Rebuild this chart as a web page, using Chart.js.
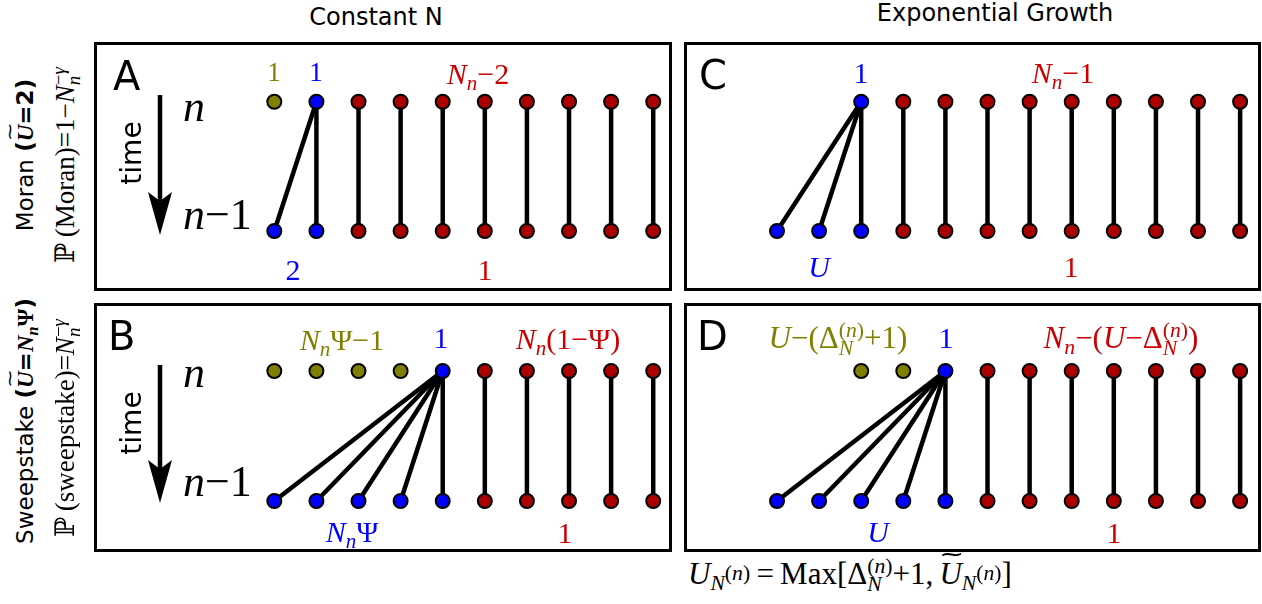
<!DOCTYPE html>
<html>
<head>
<meta charset="utf-8">
<script src="https://cdn.jsdelivr.net/npm/chart.js@4.4.0/dist/chart.umd.min.js"></script>
<style>
html,body{margin:0;padding:0;background:#fff;}
#fig{position:relative;width:1262px;height:604px;overflow:hidden;font-family:"DejaVu Sans",sans-serif;}
.panel{position:absolute;}
.panel canvas{position:absolute;left:0;top:0;}
.frame{position:absolute;left:0;top:0;right:0;bottom:0;border:3px solid #000;box-sizing:border-box;pointer-events:none;}
.t{position:absolute;white-space:nowrap;line-height:1;}
.m{font-family:"Liberation Serif","DejaVu Serif",serif;}
.s{font-family:"DejaVu Sans",sans-serif;}
.sb{position:relative;top:.3em;font-size:.7em;}
.sp{position:relative;top:-.5em;font-size:1em;}
.ss{position:relative;font-size:.7em;}
.ss .p{position:relative;top:-.5em;}
.ss .b{position:absolute;left:0;top:.42em;line-height:1;}
.til{position:relative;}
.til::after{content:"~";position:absolute;left:.12em;top:-.62em;font-family:"DejaVu Sans",sans-serif;font-style:normal;font-weight:normal;font-size:.75em;transform:scaleX(1.3);}
svg{position:absolute;left:0;top:0;}
</style>
</head>
<body>
<div id="fig"></div>
<script>
/* ===== data: one column per individual, row 1 = generation n, row 0 = generation n-1 ===== */
// o = olive (no offspring), b = blue (reproducing lineage), r = red (one offspring)
const topA    = ['o','b','r','r','r','r','r','r','r','r'];
const bottomA = ['b','b','r','r','r','r','r','r','r','r'];
const parentA = [1,1,2,3,4,5,6,7,8,9];

const topB    = ['o','o','o','o','b','r','r','r','r','r'];
const bottomB = ['b','b','b','b','b','r','r','r','r','r'];
const parentB = [4,4,4,4,4,5,6,7,8,9];

const topC    = [null,null,'b','r','r','r','r','r','r','r','r','r'];
const bottomC = ['b','b','b','r','r','r','r','r','r','r','r','r'];
const parentC = [2,2,2,3,4,5,6,7,8,9,10,11];

const topD    = [null,null,'o','o','b','r','r','r','r','r','r','r'];
const bottomD = ['b','b','b','b','b','r','r','r','r','r','r','r'];
const parentD = [4,4,4,4,4,5,6,7,8,9,10,11];

const COLORS = {o:'#808000', b:'#0000ff', r:'#aa0000'};
const TXT = {o:'#808000', b:'#0000ff', r:'#cc0000', k:'#000'};

const fig = document.getElementById('fig');

/* ===== panels ===== */
function makePanel(rect, top, bottom, parent, xr, yr){
    const wrap = document.createElement('div');
    wrap.className = 'panel';
    Object.assign(wrap.style,{left:rect[0]+'px',top:rect[1]+'px',width:rect[2]+'px',height:rect[3]+'px'});
    const cv = document.createElement('canvas');
    cv.width = rect[2]; cv.height = rect[3];
    wrap.appendChild(cv);
    const fr = document.createElement('div'); fr.className = 'frame';
    wrap.appendChild(fr);
    fig.appendChild(wrap);

    const pts = [], bg = [];
    top.forEach((c,i)=>{ if(c){ pts.push({x:i,y:1}); bg.push(COLORS[c]); } });
    bottom.forEach((c,i)=>{ pts.push({x:i,y:0}); bg.push(COLORS[c]); });

    const datasets = parent.map((p,i)=>({
        data:[{x:p,y:1},{x:i,y:0}], showLine:true, borderColor:'#000', borderWidth:4.5,
        pointRadius:0, order:2, clip:false
    }));
    datasets.push({data:pts, pointRadius:7, pointBackgroundColor:bg, pointBorderColor:'#000',
        pointBorderWidth:2, order:1, clip:false});

    new Chart(cv,{
        type:'scatter',
        data:{datasets},
        options:{
            responsive:false, animation:false, devicePixelRatio:1, events:[],
            layout:{padding:0, autoPadding:false},
            plugins:{legend:{display:false}, tooltip:{enabled:false}},
            scales:{
                x:{type:'linear', min:xr[0], max:xr[1], display:false},
                y:{type:'linear', min:yr[0], max:yr[1], display:false}
            }
        }
    });
}

makePanel([94,42,578,249],  topA, bottomA, parentA, [-4.283,9.446],  [-0.464,1.462]);
makePanel([94,303,578,249], topB, bottomB, parentB, [-4.283,9.446],  [-0.392,1.523]);
makePanel([684,42,577,249], topC, bottomC, parentC, [-2.209,11.496], [-0.464,1.462]);
makePanel([684,303,577,249],topD, bottomD, parentD, [-2.209,11.496], [-0.392,1.523]);

/* ===== text ===== */
function put(html, x, base, size, color, cls, align){
    const d = document.createElement('div');
    d.className = 't ' + (cls||'m');
    d.innerHTML = html;
    d.style.left = x+'px';
    d.style.top = (base-0.84*size)+'px';
    d.style.fontSize = size+'px';
    d.style.color = color||'#000';
    if(align!=='left') d.style.transform = 'translateX(-50%)';
    fig.appendChild(d);
}
function rot(html, x, y, size, cls){
    const d = document.createElement('div');
    d.className = 't ' + cls;
    d.innerHTML = html;
    d.style.left = x+'px';
    d.style.top = y+'px';
    d.style.fontSize = size+'px';
    d.style.transform = 'translate(-50%,-50%) rotate(-90deg)';
    fig.appendChild(d);
}

const Nn = '<i>N</i><span class="sb"><i>n</i></span>';
const Nng = '<i>N</i><span class="ss"><span class="p">−<i>γ</i></span><span class="b"><i>n</i></span></span>';
const DN = 'Δ<span class="ss"><span class="p">(<i>n</i>)</span><span class="b"><i>N</i></span></span>';
const UNn = '<span class="sb"><i>N</i><span class="sp">(<i>n</i>)</span></span>';

put('Constant N', 376, 25, 24, '#000', 's');
put('Exponential Growth', 995, 21, 24, '#000', 's');

put('A', 113, 90, 40, '#000', 's', 'left');
put('B', 108, 350, 40, '#000', 's', 'left');
put('C', 699, 89, 40, '#000', 's', 'left');
put('D', 697, 350, 40, '#000', 's', 'left');

// generation labels
put('<i>n</i>', 183, 122, 44, '#000', 'm', 'left');
put('<i>n</i>−1', 183, 230, 44, '#000', 'm', 'left');
put('<i>n</i>', 183, 388, 44, '#000', 'm', 'left');
put('<i>n</i>−1', 183, 497, 44, '#000', 'm', 'left');

// panel A
put('1', 274, 82, 27, TXT.o);
put('1', 316, 82, 27, TXT.b);
put(Nn+'−2', 478, 84, 30, TXT.r);
put('2', 293, 280, 30, TXT.b);
put('1', 485, 280, 30, TXT.r);

// panel C
put('1', 861, 83, 30, TXT.b);
put(Nn+'−1', 1063, 83, 30, TXT.r);
put('<i>U</i>', 819, 277, 30, TXT.b);
put('1', 1071, 277, 30, TXT.r);

// panel B
put(Nn+'Ψ−1', 342, 350, 30, TXT.o);
put('1', 441, 348, 30, TXT.b);
put(Nn+'(1−Ψ)', 568, 349, 30, TXT.r);
put(Nn+'Ψ', 352, 542, 30, TXT.b);
put('1', 565, 543, 30, TXT.r);

// panel D
put('<i>U</i>−('+DN+'+1)', 838, 348, 31, TXT.o);
put('1', 946, 348, 30, TXT.b);
put(Nn+'−(<i>U</i>−'+DN+')', 1121, 348, 31, TXT.r);
put('<i>U</i>', 878, 542, 30, TXT.b);
put('1', 1114, 543, 30, TXT.r);

put('<i>U</i>'+UNn+'\u2009=\u2009Max['+DN+'+1,\u2009<span class="til"><i>U</i></span>'+UNn+']', 688, 584, 31, '#000', 'm', 'left');

// row titles
rot('Moran <b>(<span class="m til"><i>U</i></span>=2)</b>', 25, 155, 23, 's');
rot('ℙ\u2009(Moran)=1−'+Nng, 65, 165, 27, 'm');
rot('Sweepstake <b>(<span class="m til"><i>U</i></span>=<span class="m"><i>N</i><span class="sb"><i>n</i></span>Ψ</span>)</b>', 25, 421, 23, 's');
rot('ℙ\u2009(sweepstake)='+Nng, 65, 428, 27, 'm');
rot('time', 132, 153, 28, 's');
rot('time', 132, 423, 28, 's');

/* ===== time arrows ===== */
const arrows = [[95,235],[365,503]];
let svg = '<svg width="1262" height="604" xmlns="http://www.w3.org/2000/svg">';
arrows.forEach(([y0,y1])=>{
    svg += `<line x1="160" y1="${y0}" x2="160" y2="${y1-32}" stroke="#000" stroke-width="4.5"/>`;
    svg += `<polygon points="160,${y1} 148,${y1-43} 160,${y1-34} 172,${y1-43}" fill="#000"/>`;
});
svg += '</svg>';
fig.insertAdjacentHTML('beforeend', svg);
</script>
</body>
</html>
